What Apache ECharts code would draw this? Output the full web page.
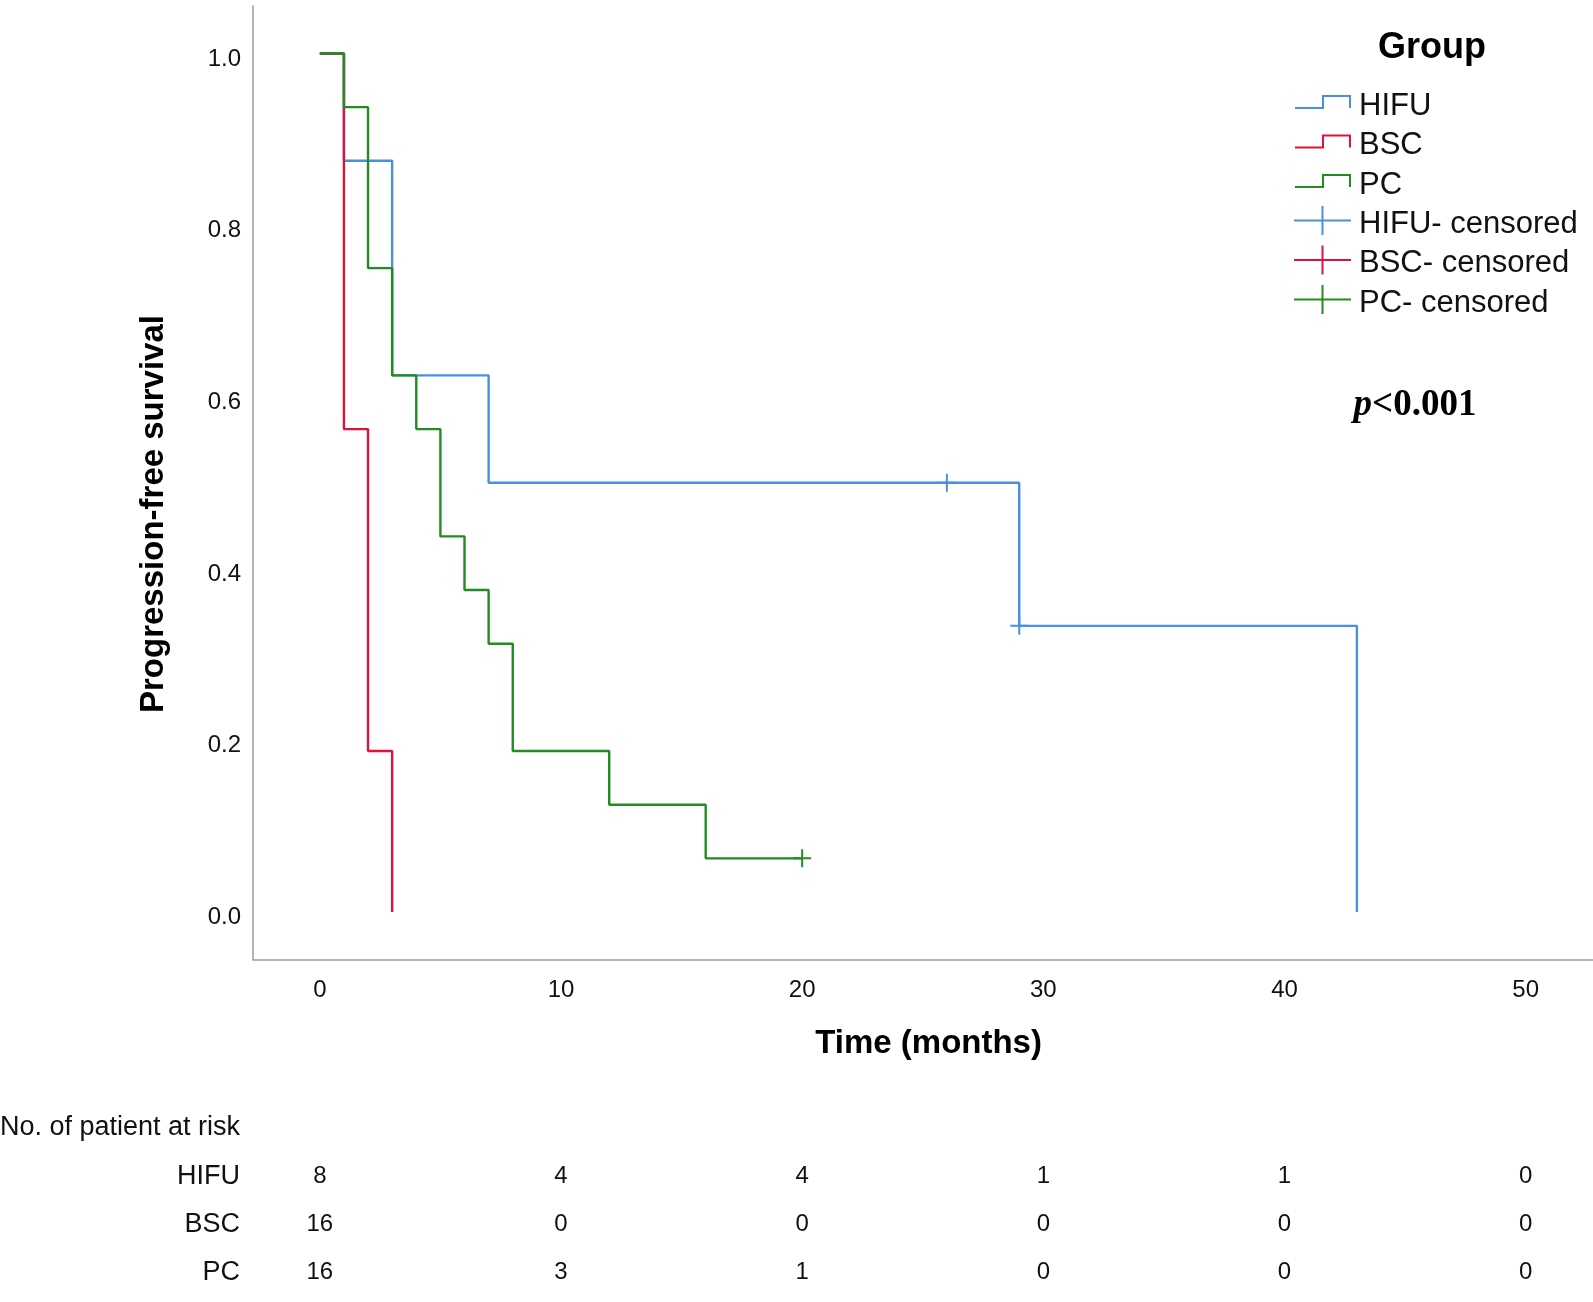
<!DOCTYPE html>
<html>
<head>
<meta charset="utf-8">
<script src="https://cdn.jsdelivr.net/npm/echarts@6/dist/echarts.min.js"></script>
<style>
html,body{margin:0;padding:0;background:#fff;}
#chart{width:1593px;height:1302px;}
</style>
</head>
<body>
<div id="chart"></div>
<script>
// ---------- data ----------
const groups = ['HIFU', 'BSC', 'PC'];
const colors = ['#4a90e2', '#dc143c', '#228b22'];

const hifuTime = [0, 1, 3, 7, 29, 43];
const hifuSurv = [1, 0.875, 0.625, 0.5, 0.3333, 0];
const bscTime = [0, 1, 2, 3];
const bscSurv = [1, 0.5625, 0.1875, 0];
const pcTime = [0, 1, 2, 3, 4, 5, 6, 7, 8, 12, 16, 20];
const pcSurv = [1, 0.9375, 0.75, 0.625, 0.5625, 0.4375, 0.375, 0.3125, 0.1875, 0.125, 0.0625, 0.0625];

const hifuCensTime = [26, 29];
const hifuCensSurv = [0.5, 0.3333];
const bscCensTime = [];
const bscCensSurv = [];
const pcCensTime = [20];
const pcCensSurv = [0.0625];

const xTicks = [0, 10, 20, 30, 40, 50];
const yTicks = [0, 0.2, 0.4, 0.6, 0.8, 1.0];
const riskTimes = [0, 10, 20, 30, 40, 50];
const riskHIFU = [8, 4, 4, 1, 1, 0];
const riskBSC = [16, 0, 0, 0, 0, 0];
const riskPC = [16, 3, 1, 0, 0, 0];

// ---------- helpers ----------
const zip = (a, b) => a.map((v, i) => [v, b[i]]);
const FONT = '"Liberation Sans", Arial, sans-serif';
const XMIN = -2.77, XMAX = 52.79;
const YMIN = -0.0551, YMAX = 1.0553;

// step icon occupies the top 14px of a 22px box (tiny speck at bottom keeps the box size)
const stepIcon = 'path://M0,12H29V14H0Z M27,0H29V14H27Z M27,0H56V2H27Z M54,0H56V13H54Z M0,21.99H0.01V22H0Z';
// censored icon occupies the top 29px of a 36px box
const censIcon = 'path://M0,13.5H57V15.5H0Z M27.5,0H29.5V29H27.5Z M0,35.99H0.01V36H0Z';
const censSymbol = 'path://M0,8H18V10H0Z M8,0H10V18H8Z';

const survSets = [zip(hifuTime, hifuSurv), zip(bscTime, bscSurv), zip(pcTime, pcSurv)];
const censSets = [zip(hifuCensTime, hifuCensSurv), zip(bscCensTime, bscCensSurv), zip(pcCensTime, pcCensSurv)];
const riskSets = [riskHIFU, riskBSC, riskPC];

const series = [];
groups.forEach((g, i) => {
  series.push({
    name: g, type: 'line', step: 'end', xAxisIndex: 0, yAxisIndex: 0,
    data: survSets[i], showSymbol: false, symbol: 'none',
    lineStyle: { color: colors[i], width: 2.4 },
    itemStyle: { color: colors[i] },
    animation: false, z: 2 + i
  });
});
groups.forEach((g, i) => {
  series.push({
    name: g + '- censored', type: 'scatter', xAxisIndex: 0, yAxisIndex: 0,
    data: censSets[i], symbol: censSymbol, symbolSize: [18, 18],
    itemStyle: { color: colors[i], opacity: 1 },
    animation: false, z: 6
  });
});
groups.forEach((g, i) => {
  series.push({
    name: 'risk-' + g, type: 'scatter', xAxisIndex: 1, yAxisIndex: 1,
    data: riskTimes.map((t, k) => [t, g, riskSets[i][k]]),
    symbolSize: 2, itemStyle: { color: 'rgba(0,0,0,0)', opacity: 1 },
    label: {
      show: true, position: 'inside', formatter: p => String(p.value[2]),
      color: '#111', fontSize: 24, fontFamily: FONT
    },
    animation: false, silent: true
  });
});

const option = {
  backgroundColor: '#fff',
  animation: false,
  grid: [
    { left: 253, top: 6, right: 0, bottom: 342.7, containLabel: false },
    { left: 253, top: 1152, right: 0, height: 145, containLabel: false }
  ],
  xAxis: [
    {
      type: 'value', gridIndex: 0, min: XMIN, max: XMAX,
      axisLine: { show: true, onZero: false, lineStyle: { color: '#9a9a9a', width: 1.5 } },
      axisTick: { show: false },
      splitLine: { show: false },
      axisLabel: { customValues: xTicks, margin: 19, color: '#111', fontSize: 24, fontFamily: FONT }
    },
    { type: 'value', gridIndex: 1, min: XMIN, max: XMAX, show: false }
  ],
  yAxis: [
    {
      type: 'value', gridIndex: 0, min: YMIN, max: YMAX,
      axisLine: { show: true, onZero: false, lineStyle: { color: '#9a9a9a', width: 1.5 } },
      axisTick: { show: false },
      splitLine: { show: false },
      axisLabel: {
        customValues: yTicks, margin: 12, color: '#111', fontSize: 24, fontFamily: FONT,
        formatter: v => v.toFixed(1), verticalAlign: 'top', lineHeight: 11
      }
    },
    {
      type: 'category', gridIndex: 1, data: groups, inverse: true,
      axisLine: { show: false }, axisTick: { show: false }, splitLine: { show: false },
      axisLabel: { margin: 13, color: '#111', fontSize: 27, fontFamily: FONT }
    }
  ],
  legend: [
    {
      orient: 'vertical', left: 1295, top: 90.5, padding: 0, itemGap: 8.5,
      itemWidth: 56, itemHeight: 22, selectedMode: false,
      itemStyle: { borderWidth: 0 },
      textStyle: { fontSize: 31, lineHeight: 31, color: '#111', fontFamily: FONT, padding: [0, 0, 0, 3] },
      data: groups.map(g => ({ name: g, icon: stepIcon }))
    },
    {
      orient: 'vertical', left: 1294, top: 206, padding: 0, itemGap: 3.5,
      itemWidth: 57, itemHeight: 36, selectedMode: false,
      itemStyle: { borderWidth: 0, opacity: 1 },
      textStyle: { fontSize: 31, lineHeight: 31, color: '#111', fontFamily: FONT, padding: [0, 0, 0, 3] },
      data: groups.map(g => ({ name: g + '- censored', icon: censIcon }))
    }
  ],
  graphic: [
    {
      type: 'text', x: 154.4, y: 514, rotation: Math.PI / 2,
      style: { text: 'Progression-free survival', font: 'bold 33px ' + FONT, fill: '#000', align: 'center', verticalAlign: 'middle' }
    },
    {
      type: 'text', x: 928.6, y: 1044,
      style: { text: 'Time (months)', font: 'bold 33px ' + FONT, fill: '#000', align: 'center', verticalAlign: 'middle' }
    },
    {
      type: 'text', x: 1432, y: 48,
      style: { text: 'Group', font: 'bold 36px ' + FONT, fill: '#000', align: 'center', verticalAlign: 'middle' }
    },
    {
      type: 'text', x: 1415, y: 405,
      style: {
        text: '{p|p}{b|<0.001}', align: 'center', verticalAlign: 'middle',
        rich: {
          p: { fontFamily: '"Liberation Serif", "Times New Roman", serif', fontStyle: 'italic', fontWeight: 'bold', fontSize: 37, fill: '#000' },
          b: { fontFamily: '"Liberation Serif", "Times New Roman", serif', fontWeight: 'bold', fontSize: 37, fill: '#000' }
        }
      }
    },
    {
      type: 'text', x: 240, y: 1128,
      style: { text: 'No. of patient at risk', font: '27px ' + FONT, fill: '#111', align: 'right', verticalAlign: 'middle' }
    }
  ],
  series: series
};

const chart = echarts.init(document.getElementById('chart'), null, { renderer: 'canvas' });
chart.setOption(option);
</script>
</body>
</html>
